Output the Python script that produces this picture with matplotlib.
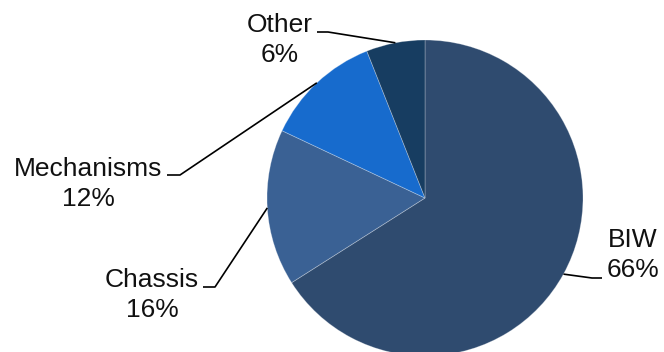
import numpy as np
import matplotlib
matplotlib.use("Agg")
import matplotlib.pyplot as plt

plt.rcParams['font.family'] = ['Liberation Sans', 'DejaVu Sans']

# Share of vehicle weight by subsystem
categories = ["BIW", "Chassis", "Mechanisms", "Other"]
shares = [66, 16, 12, 6]
colors = ["#2F4B6F", "#3A6194", "#176BCD", "#173D61"]

W, H = 664, 352
fig = plt.figure(figsize=(W / 100, H / 100), dpi=100)
ax = fig.add_axes([0, 0, 1, 1])

center = (425, 198)
radius = 158

# y axis runs downward, so start at -90 and go counterclockwise in data
# coordinates to get a clockwise pie starting at twelve o'clock on screen.
wedges, _ = ax.pie(shares, colors=colors, startangle=-90, counterclock=True,
                   center=center, radius=radius,
                   wedgeprops=dict(edgecolor=(1, 1, 1, 0.3), linewidth=0.6))
ax.set_xlim(0, W)
ax.set_ylim(H, 0)
ax.set_aspect('equal')
ax.axis('off')

# label anchor: text centre x, first-line baseline, elbow point, line end
label_layout = {
    "BIW":        dict(tx=633, ty=247, elbow=(592, 278), end=(602, 278)),
    "Chassis":    dict(tx=152, ty=287, elbow=(215, 287), end=(203, 287)),
    "Mechanisms": dict(tx=88,  ty=176, elbow=(180, 175), end=(167, 175)),
    "Other":      dict(tx=280, ty=32,  elbow=(328, 32),  end=(317, 32)),
}

fs = 19
for w, name, val in zip(wedges, categories, shares):
    mid = np.deg2rad((w.theta1 + w.theta2) / 2)
    ex = center[0] + radius * np.cos(mid)
    ey = center[1] + radius * np.sin(mid)
    lay = label_layout[name]
    ax.plot([ex, lay["elbow"][0], lay["end"][0]],
            [ey, lay["elbow"][1], lay["end"][1]],
            color="black", lw=1.2, solid_capstyle='butt')
    ax.text(lay["tx"], lay["ty"], name, ha='center', va='baseline',
            fontsize=fs, color="#111111")
    ax.text(lay["tx"], lay["ty"] + 30, f"{val}%", ha='center', va='baseline',
            fontsize=fs, color="#111111")

fig.savefig("out.png", dpi=100)
